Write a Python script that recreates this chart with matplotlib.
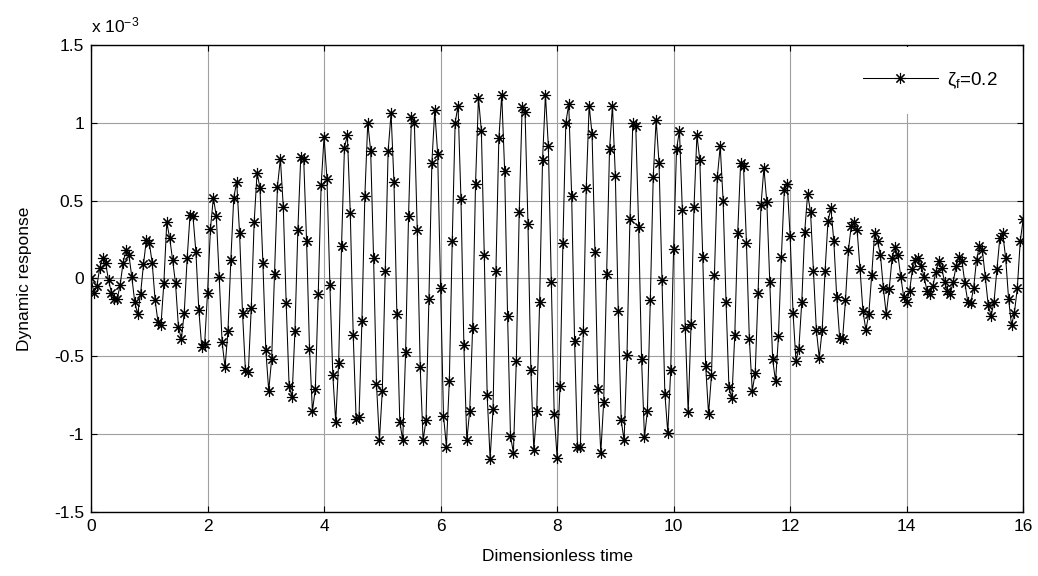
import numpy as np
import matplotlib
matplotlib.use("Agg")
import matplotlib.pyplot as plt
from matplotlib.ticker import FuncFormatter, MultipleLocator

fs = 12.5
plt.rcParams["font.family"] = "Liberation Sans"
plt.rcParams["mathtext.fontset"] = "custom"
plt.rcParams["mathtext.rm"] = "Liberation Sans"
plt.rcParams["mathtext.it"] = "Liberation Sans"
plt.rcParams["axes.unicode_minus"] = False

# sampled response, in units of 1e-3, one row per 0.5 of dimensionless time
dt = 0.05
resp = [
    0.00, -0.09, -0.05, 0.07, 0.13, 0.10, -0.01, -0.09, -0.13, -0.13,
    -0.04, 0.10, 0.18, 0.15, 0.01, -0.15, -0.23, -0.10, 0.09, 0.25,
    0.23, 0.10, -0.14, -0.28, -0.30, -0.03, 0.36, 0.26, 0.12, -0.03,
    -0.31, -0.39, -0.22, 0.13, 0.41, 0.40, 0.17, -0.20, -0.44, -0.42,
    -0.09, 0.32, 0.52, 0.40, 0.01, -0.41, -0.57, -0.34, 0.12, 0.52,
    0.62, 0.29, -0.22, -0.59, -0.60, -0.19, 0.36, 0.68, 0.58, 0.10,
    -0.46, -0.72, -0.52, 0.03, 0.59, 0.77, 0.46, -0.16, -0.69, -0.76,
    -0.34, 0.31, 0.78, 0.77, 0.24, -0.45, -0.85, -0.71, -0.10, 0.60,
    0.91, 0.64, -0.04, -0.62, -0.92, -0.54, 0.21, 0.84, 0.92, 0.42,
    -0.36, -0.90, -0.89, -0.27, 0.53, 1.00, 0.82, 0.13, -0.68, -1.04,
    -0.72, 0.05, 0.82, 1.06, 0.62, -0.23, -0.92, -1.04, -0.47, 0.40,
    1.04, 1.00, 0.31, -0.57, -1.04, -0.91, -0.13, 0.74, 1.08, 0.80,
    -0.06, -0.88, -1.08, -0.66, 0.24, 1.00, 1.11, 0.51, -0.43, -1.04,
    -0.85, -0.32, 0.61, 1.16, 0.95, 0.15, -0.75, -1.16, -0.84, 0.05,
    0.90, 1.18, 0.69, -0.24, -1.01, -1.12, -0.53, 0.43, 1.10, 1.07,
    0.35, -0.59, -1.10, -0.85, -0.15, 0.76, 1.18, 0.85, -0.02, -0.87,
    -1.15, -0.69, 0.23, 1.00, 1.12, 0.53, -0.40, -1.08, -1.08, -0.34,
    0.58, 1.11, 0.93, 0.17, -0.71, -1.12, -0.79, 0.03, 0.83, 1.11,
    0.66, -0.21, -0.91, -1.04, -0.49, 0.38, 1.00, 0.98, 0.33, -0.52,
    -1.02, -0.85, -0.14, 0.65, 1.02, 0.74, -0.01, -0.74, -0.99, -0.59,
    0.19, 0.83, 0.95, 0.44, -0.32, -0.86, -0.29, 0.46, 0.92, 0.76,
    0.14, -0.56, -0.87, -0.62, 0.02, 0.65, 0.85, 0.50, -0.15, -0.70,
    -0.77, -0.36, 0.29, 0.74, 0.72, 0.23, -0.39, -0.72, -0.61, -0.09,
    0.47, 0.71, 0.49, -0.02, -0.52, -0.66, -0.37, 0.14, 0.57, 0.61,
    0.27, -0.22, -0.53, -0.45, -0.15, 0.30, 0.54, 0.43, 0.05, -0.33,
    -0.51, -0.33, 0.05, 0.37, 0.45, 0.24, -0.12, -0.38, -0.39, -0.14,
    0.18, 0.34, 0.36, 0.31, 0.06, -0.21, -0.33, -0.23, 0.02, 0.29,
    0.24, 0.15, -0.06, -0.23, -0.07, 0.13, 0.20, 0.15, 0.01, -0.12,
    -0.15, -0.08, 0.06, 0.12, 0.13, 0.08, 0.01, -0.08, -0.10, -0.05,
    0.04, 0.11, 0.07, -0.02, -0.08, -0.10, -0.02, 0.08, 0.14, 0.11,
    -0.03, -0.15, -0.16, -0.06, 0.12, 0.21, 0.18, 0.01, -0.17, -0.24,
    -0.15, 0.06, 0.26, 0.29, 0.13, -0.13, -0.30, -0.22, -0.06, 0.24,
    0.38,
]
t = np.arange(len(resp)) * dt

fig = plt.figure(figsize=(10.38, 5.76), dpi=100)
ax = fig.add_axes([0.0877, 0.111, 0.898, 0.811])

ax.plot(t, resp, color="k", lw=0.75, marker=(8, 2, 0), ms=8, mew=0.8,
        label=r"$\zeta_\mathrm{f}$=0.2")

ax.set_xlim(0, 16)
ax.set_ylim(-1.5, 1.5)
ax.xaxis.set_major_locator(MultipleLocator(2))
ax.yaxis.set_major_locator(MultipleLocator(0.5))
ax.yaxis.set_major_formatter(FuncFormatter(lambda v, p: "%g" % v))
ax.tick_params(direction="in", length=4, top=True, right=True,
               labelsize=fs, pad=5)

ax.grid(True, color="#a0a0a0", lw=0.8)
ax.set_axisbelow(True)
for s in ax.spines.values():
    s.set_linewidth(1.0)

ax.set_xlabel("Dimensionless time", fontsize=fs, labelpad=11)
ax.set_ylabel("Dynamic response", fontsize=fs, labelpad=16)
ax.text(0.0, 1.02, r"x 10$^{-3}$", transform=ax.transAxes, fontsize=fs,
        ha="left", va="bottom")

leg = ax.legend(loc="upper right", fontsize=fs + 1, handlelength=4.0,
                borderpad=1.25, handletextpad=0.5, borderaxespad=0.1,
                fancybox=False, framealpha=1)
leg.get_frame().set_edgecolor("none")

fig.savefig("out.png", dpi=100)
